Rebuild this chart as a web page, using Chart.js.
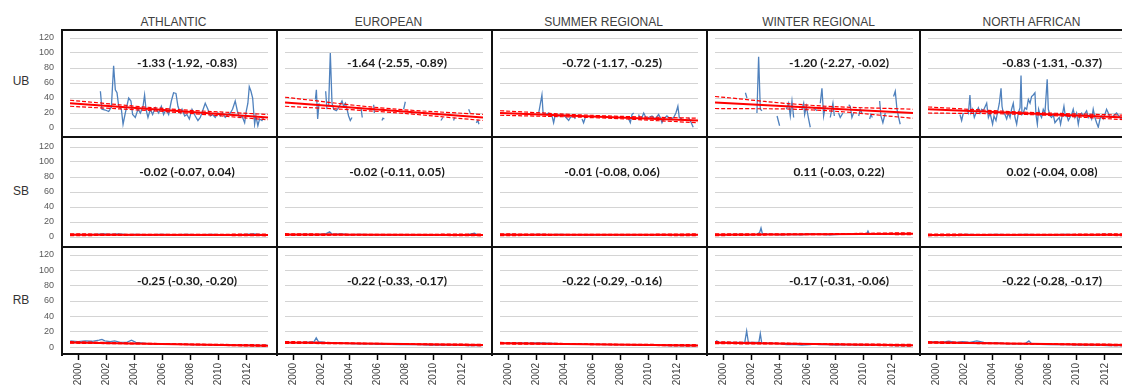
<!DOCTYPE html>
<html>
<head>
<meta charset="utf-8">
<script src="https://cdn.jsdelivr.net/npm/chart.js@4.4.1/dist/chart.umd.min.js"></script>
<style>
  html, body { margin: 0; padding: 0; background: #fff; overflow: hidden; }
  body { width: 1122px; height: 387px; position: relative; font-family: "Liberation Sans", Arial, sans-serif; }
  .title { position: absolute; top: 15px; width: 215px; text-align: center; font-size: 12px; color: #404040; line-height: 14px; }
  .rowlbl { position: absolute; left: 6px; width: 30px; text-align: center; font-size: 12px; color: #333; line-height: 14px; }
  .ln { position: absolute; background: #111; z-index: 5; }
  canvas { position: absolute; }
</style>
</head>
<body>
<script>
// column / row labels
const regions = ['ATHLANTIC', 'EUROPEAN', 'SUMMER REGIONAL', 'WINTER REGIONAL', 'NORTH AFRICAN'];
const rowNames = ['UB', 'SB', 'RB'];
const xTickYears = [2000, 2002, 2004, 2006, 2008, 2010, 2012];
const yTickValues = [0, 20, 40, 60, 80, 100, 120];

// slope (95% CI) printed in each panel
const ubEst = ['-1.33 (-1.92, -0.83)', '-1.64 (-2.55, -0.89)', '-0.72 (-1.17, -0.25)', '-1.20 (-2.27, -0.02)', '-0.83 (-1.31, -0.37)'];
const sbEst = ['-0.02 (-0.07, 0.04)', '-0.02 (-0.11, 0.05)', '-0.01 (-0.08, 0.06)', '0.11 (-0.03, 0.22)', '0.02 (-0.04, 0.08)'];
const rbEst = ['-0.25 (-0.30, -0.20)', '-0.22 (-0.33, -0.17)', '-0.22 (-0.29, -0.16)', '-0.17 (-0.31, -0.06)', '-0.22 (-0.28, -0.17)'];

// observed series, [year, value]; null value = gap
const ubAth = [[2001.59,49],[2001.70,25],[2001.94,24],[2002.18,22],[2002.37,28],[2002.53,83],[2002.65,51],[2002.77,47],[2002.89,29],[2003.08,25],[2003.20,5],[2003.36,20],[2003.60,40],[2003.76,36],[2003.88,18],[2004.07,14],[2004.26,25],[2004.43,20],[2004.62,29],[2004.73,44],[2004.83,25],[2004.97,14],[2005.14,25],[2005.30,18],[2005.49,27],[2005.73,20],[2005.92,29],[2006.08,18],[2006.25,25],[2006.44,18],[2006.63,36],[2006.79,47],[2006.96,46],[2007.10,29],[2007.27,20],[2007.39,25],[2007.58,16],[2007.74,18],[2007.91,12],[2008.10,25],[2008.33,16],[2008.52,10],[2008.69,14],[2008.93,27],[2009.04,33],[2009.23,25],[2009.40,16],[2009.56,18],[2009.75,14],[2009.94,20],[2010.11,16],[2010.27,20],[2010.46,14],[2010.65,18],[2010.82,20],[2010.98,25],[2011.17,36],[2011.32,23],[2011.46,14],[2011.65,16],[2011.84,7],[2011.96,23],[2012.07,33],[2012.17,55],[2012.29,49],[2012.41,40],[2012.55,5],[2012.64,16],[2012.78,3],[2012.90,12],[2013.07,10],[2013.19,14]];
const ubEur = [[2001.59,38],[2001.66,51],[2001.75,12],[2001.85,33],[2001.9,null],[2002.32,49],[2002.41,25],[2002.45,null],[2002.53,29],[2002.65,100],[2002.77,33],[2002.89,25],[2003.08,23],[2003.24,27],[2003.48,36],[2003.60,29],[2003.72,33],[2003.84,25],[2003.95,16],[2004.07,10],[2004.19,14],[2004.3,null],[2004.83,27],[2004.92,14],[2005.0,null],[2005.73,31],[2005.78,20],[2005.85,null],[2006.32,10],[2006.39,13],[2006.49,12],[2006.55,null],[2007.86,25],[2007.98,35],[2008.05,null],[2010.51,10],[2010.65,14],[2010.75,null],[2011.41,10],[2011.48,14],[2011.55,null],[2012.48,25],[2012.59,20],[2012.65,null],[2013.02,7],[2013.14,10],[2013.21,5]];
const ubSum = [[2002.18,20],[2002.41,44],[2002.49,20],[2002.65,18],[2002.89,20],[2003.13,16],[2003.24,7],[2003.36,18],[2003.60,16],[2003.84,18],[2004.07,15],[2004.31,10],[2004.43,14],[2004.66,16],[2004.78,12],[2004.9,null],[2005.26,12],[2005.37,7],[2005.49,14],[2005.6,null],[2007.62,12],[2007.74,16],[2007.8,null],[2008.57,12],[2008.69,7],[2008.81,18],[2008.93,20],[2009.1,null],[2009.28,18],[2009.40,12],[2009.52,14],[2009.64,20],[2009.75,16],[2009.87,12],[2009.99,14],[2010.23,16],[2010.46,12],[2010.70,18],[2010.82,14],[2010.94,7],[2011.06,12],[2011.29,16],[2011.53,12],[2011.77,14],[2011.93,20],[2012.07,29],[2012.17,14],[2012.36,12],[2012.5,null],[2012.83,14],[2013.02,7],[2013.16,1]];
const ubWin = [[2001.59,47],[2001.70,40],[2001.8,null],[2002.41,20],[2002.53,95],[2002.65,25],[2002.77,23],[2002.9,null],[2003.84,16],[2004.02,3],[2004.1,null],[2004.50,25],[2004.66,33],[2004.78,16],[2004.90,36],[2005.02,14],[2005.1,null],[2005.61,25],[2005.73,33],[2005.80,18],[2005.92,29],[2006.08,12],[2006.20,1],[2006.3,null],[2006.44,27],[2006.68,23],[2006.8,null],[2006.91,33],[2007.03,53],[2007.15,16],[2007.27,29],[2007.4,null],[2007.62,14],[2007.81,33],[2007.91,16],[2008.0,null],[2008.21,20],[2008.33,14],[2008.52,20],[2008.6,null],[2008.93,31],[2009.04,29],[2009.16,14],[2009.28,20],[2009.4,null],[2009.64,16],[2009.75,25],[2009.87,20],[2010.0,null],[2010.42,12],[2010.51,18],[2010.61,14],[2010.7,null],[2011.13,36],[2011.22,16],[2011.36,7],[2011.53,20],[2011.7,null],[2012.12,42],[2012.24,49],[2012.36,25],[2012.48,14],[2012.59,5]];
const ubNaf = [[2001.70,18],[2001.82,10],[2001.94,20],[2002.05,null],[2002.18,25],[2002.30,20],[2002.41,44],[2002.49,20],[2002.60,25],[2002.72,14],[2002.84,20],[2003.01,27],[2003.13,20],[2003.24,25],[2003.36,23],[2003.60,33],[2003.72,14],[2003.84,20],[2004.02,5],[2004.12,16],[2004.26,10],[2004.36,20],[2004.50,33],[2004.62,53],[2004.69,29],[2004.78,20],[2004.90,18],[2005.02,12],[2005.14,20],[2005.26,14],[2005.37,25],[2005.49,33],[2005.61,14],[2005.73,5],[2005.85,20],[2005.97,27],[2006.04,70],[2006.11,18],[2006.20,20],[2006.32,27],[2006.44,25],[2006.56,38],[2006.68,33],[2006.79,42],[2006.91,44],[2007.03,47],[2007.10,18],[2007.20,5],[2007.29,25],[2007.39,18],[2007.50,14],[2007.62,25],[2007.74,20],[2007.90,65],[2007.98,25],[2008.10,16],[2008.21,14],[2008.33,18],[2008.45,7],[2008.57,10],[2008.76,14],[2008.85,5],[2009.00,20],[2009.09,29],[2009.19,16],[2009.28,18],[2009.40,10],[2009.52,14],[2009.64,18],[2009.75,25],[2009.87,14],[2009.99,20],[2010.11,5],[2010.23,18],[2010.35,20],[2010.46,16],[2010.70,23],[2010.82,14],[2010.94,18],[2011.06,12],[2011.17,25],[2011.29,14],[2011.41,7],[2011.53,1],[2011.65,12],[2011.77,16],[2011.88,12],[2012.00,18],[2012.12,25],[2012.24,20],[2012.36,14],[2012.59,16],[2012.83,20],[2013.07,14],[2013.19,12]];

const sbAth = [[1999.45,3],[2000.0,3.5],[2000.6,3],[2001.2,3.5],[2001.8,4],[2002.3,3.5],[2002.9,4],[2003.5,3],[2004.1,3.5],[2004.7,3],[2005.3,3],[2005.9,3.5],[2006.5,3],[2007.1,3],[2007.7,3.5],[2008.3,3],[2008.9,3],[2009.5,3.5],[2010.1,3],[2010.7,3],[2011.3,3],[2011.9,3.5],[2012.5,4],[2013.1,3],[2013.45,3]];
const sbEur = [[1999.45,3],[2000.2,3],[2000.9,3.5],[2001.6,3],[2002.3,4],[2002.6,7],[2002.8,3.5],[2003.4,4],[2004.0,3],[2004.7,3.5],[2005.4,3],[2006.1,3],[2006.8,2.5],[2007.5,3],[2008.2,3],[2008.9,3],[2009.6,2.5],[2010.3,3],[2011.0,3],[2011.7,2.5],[2012.4,3],[2012.9,5],[2013.1,3],[2013.45,3]];
const sbSum = [[1999.45,3],[2000.1,3.5],[2000.8,3],[2001.5,3],[2002.2,3.5],[2002.9,3],[2003.6,3.5],[2004.3,3],[2005.0,3],[2005.7,2.5],[2006.4,3],[2007.1,3],[2007.8,3],[2008.5,2.5],[2009.2,3],[2009.9,3],[2010.6,3],[2011.3,3],[2012.0,2.5],[2012.7,3],[2013.45,3]];
const sbWin = [[1999.45,3],[2000.3,3],[2001.0,3.5],[2001.7,3],[2002.4,3.5],[2002.6,6],[2002.7,12],[2002.8,4],[2003.4,3.5],[2004.1,3],[2004.8,3.5],[2005.5,3],[2006.2,4],[2006.9,3.5],[2007.6,3],[2008.3,3.5],[2009.0,4],[2009.7,3.5],[2010.2,4],[2010.3,8],[2010.4,4],[2011.1,4],[2011.8,4.5],[2012.5,4],[2013.45,4.5]];
const sbNaf = [[1999.45,3],[2000.1,2.5],[2000.8,3],[2001.5,3],[2002.2,3.5],[2002.9,3],[2003.6,3],[2004.3,3.5],[2005.0,3],[2005.7,3],[2006.4,3.5],[2007.1,3],[2007.8,3],[2008.5,3],[2009.2,3.5],[2009.9,3],[2010.6,3],[2011.3,3],[2012.0,3.5],[2012.7,3],[2013.45,3]];

const rbAth = [[1999.45,8],[2000.0,7],[2000.5,8],[2001.0,7.5],[2001.5,9],[2001.7,10],[2001.9,8],[2002.3,7],[2002.6,8],[2003.0,6],[2003.5,6.5],[2003.8,9],[2004.1,6],[2004.6,5],[2005.2,4],[2005.8,4.5],[2006.4,4],[2007.0,3.5],[2007.6,3.5],[2008.2,3],[2008.8,3],[2009.4,3],[2010.0,2.5],[2010.6,3],[2011.2,2.5],[2011.8,2.5],[2012.4,2.5],[2013.0,2],[2013.45,2.5]];
const rbEur = [[1999.45,6],[2000.0,5.5],[2000.6,6],[2001.1,6.5],[2001.5,7],[2001.65,12],[2001.8,7],[2002.3,6],[2002.9,5.5],[2003.5,5],[2004.1,4.5],[2004.8,4],[2005.5,4],[2006.2,3.5],[2006.9,3.5],[2007.6,3],[2008.3,3],[2009.0,3],[2009.7,2.5],[2010.4,2.5],[2011.1,2.5],[2011.8,2.5],[2012.5,2],[2013.45,2]];
const rbSum = [[1999.45,5],[2000.1,5],[2000.8,5.5],[2001.5,5],[2002.2,5.5],[2002.9,5],[2003.6,4.5],[2004.3,4],[2005.0,4],[2005.7,3.5],[2006.4,3.5],[2007.1,3],[2007.8,3],[2008.5,3],[2009.2,2.5],[2009.9,2.5],[2010.6,2.5],[2011.3,2],[2012.0,2],[2012.7,2],[2013.45,2]];
const rbWin = [[1999.45,6],[1999.55,8],[1999.7,6.5],[2000.3,6],[2001.0,6],[2001.55,6.5],[2001.68,21],[2001.8,6],[2002.3,6],[2002.55,6.5],[2002.65,17.5],[2002.75,5],[2003.3,5],[2004.0,4.5],[2004.5,3],[2005.0,3.5],[2005.6,2.5],[2006.2,3],[2006.5,4],[2006.8,3],[2007.4,3],[2008.0,2.5],[2008.7,3],[2009.4,2.5],[2010.1,2.5],[2010.8,2.5],[2011.5,2.5],[2012.2,2],[2013.45,2]];
const rbNaf = [[1999.45,6],[1999.9,7],[2000.4,6],[2000.9,7.5],[2001.4,6],[2001.9,7],[2002.4,6],[2002.9,8],[2003.4,6],[2003.9,5],[2004.4,5.5],[2004.9,4.5],[2005.4,4],[2005.9,4.5],[2006.3,4],[2006.6,8],[2006.8,4],[2007.4,3.5],[2008.0,3],[2008.7,3],[2009.4,3],[2010.1,2.5],[2010.8,2.5],[2011.5,2.5],[2012.2,2],[2013.45,2]];

// fitted trend [start, end] and 95% band [start, middle, end]
const ubFit   = [[33, 14], [34, 14], [20, 10], [34, 20], [25, 14]];
const ubUpper = [[37, 25.5, 18], [41, 26.5, 18], [23, 16.5, 13], [42, 30, 25], [28, 21, 17]];
const ubLower = [[29, 21.5, 11], [29, 21.5, 10], [17, 13.5, 7], [26, 24, 13], [20, 18, 11]];
const sbFit   = [[3, 2.8], [3.2, 2.8], [3, 2.9], [3, 4.5], [2.8, 3.1]];
const sbUpper = [[4.2, 3.4, 4], [4.4, 3.5, 4], [4.2, 3.4, 4.1], [4.2, 4.2, 5.7], [4, 3.4, 4.3]];
const sbLower = [[1.8, 2.4, 1.6], [2, 2.5, 1.6], [1.8, 2.5, 1.7], [1.8, 3.2, 3.3], [1.6, 2.5, 1.9]];
const rbFit   = [[6, 1.8], [6, 2.5], [5, 2], [5.7, 2.2], [6, 2.5]];
const rbUpper = [[7, 4.3, 2.8], [7.2, 4.6, 3.5], [6, 3.9, 3], [7, 4.4, 3.4], [7, 4.6, 3.5]];
const rbLower = [[5, 3.5, 0.8], [4.8, 3.9, 1.5], [4, 3.1, 1], [4.4, 3.5, 1], [5, 3.9, 1.5]];

const seriesRows = [[ubAth, ubEur, ubSum, ubWin, ubNaf], [sbAth, sbEur, sbSum, sbWin, sbNaf], [rbAth, rbEur, rbSum, rbWin, rbNaf]];
const fitRows = [ubFit, sbFit, rbFit];
const upperRows = [ubUpper, sbUpper, rbUpper];
const lowerRows = [ubLower, sbLower, rbLower];
const estRows = [ubEst, sbEst, rbEst];

// layout (pixels)
const colLeft = [62, 277, 492, 707, 920];
const panelW = 215;
const rowTop = [30, 137, 247];
const rowBottom = [137, 247, 354];
const padTop = [8, 10, 8];
const padBottom = [9, 10, 0];
const rowLabelY = [81, 191, 300];
const yMin = [0, 0, -9.1];
const estDx = [117, 112, 112, 124, 124];
const xMin = 1999.43, xMax = 2013.5;

const estLabel = {
  id: 'estLabel',
  afterDatasetsDraw(chart, args, opts) {
    const { ctx, chartArea, scales } = chart;
    ctx.save();
    ctx.font = 'bold 12px Lato, "Open Sans", sans-serif';
    ctx.fillStyle = '#1a1a1a';
    ctx.textAlign = 'center';
    ctx.textBaseline = 'middle';
    ctx.fillText(opts.text, chartArea.left + opts.dx, scales.y.getPixelForValue(86));
    ctx.restore();
  }
};

function addDiv(cls, css, text) {
  const d = document.createElement('div');
  d.className = cls;
  Object.assign(d.style, css);
  if (text) d.textContent = text;
  document.body.appendChild(d);
}

regions.forEach((t, c) => addDiv('title', { left: (colLeft[c] + 4) + 'px' }, t));
rowNames.forEach((t, r) => addDiv('rowlbl', { top: (rowLabelY[r] - 7) + 'px' }, t));

// panel frame lines
colLeft.forEach(x => addDiv('ln', { left: (x - 1) + 'px', top: '29px', width: '2px', height: '327px' }));
[30, 137, 247, 354].forEach(y => addDiv('ln', { left: '61px', top: (y - 1) + 'px', width: '1070px', height: '2px' }));

for (let r = 0; r < 3; r++) {
  for (let c = 0; c < 5; c++) {
    const cv = document.createElement('canvas');
    const left = c === 0 ? 0 : colLeft[c];
    const w = colLeft[c] + panelW - left;
    const h = (r === 2 ? 387 : rowBottom[r]) - rowTop[r];
    cv.width = w; cv.height = h;
    cv.style.left = left + 'px';
    cv.style.top = rowTop[r] + 'px';
    document.body.appendChild(cv);

    const fit = fitRows[r][c], up = upperRows[r][c], lo = lowerRows[r][c];
    const xMid = (xMin + xMax) / 2;
    const blue = seriesRows[r][c].map(p => ({ x: p[0], y: p[1] }));
    const noPt = { pointRadius: 0, pointHoverRadius: 0, pointHitRadius: 0 };

    new Chart(cv, {
      type: 'line',
      data: {
        datasets: [
          { data: [{ x: xMin, y: fit[0] }, { x: xMax, y: fit[1] }], borderColor: '#ff0000', borderWidth: 2, ...noPt },
          { data: [{ x: xMin, y: up[0] }, { x: xMid, y: up[1] }, { x: xMax, y: up[2] }], borderColor: '#ff0000', borderWidth: 1.2, borderDash: [4, 2], tension: 0.4, ...noPt },
          { data: [{ x: xMin, y: lo[0] }, { x: xMid, y: lo[1] }, { x: xMax, y: lo[2] }], borderColor: '#ff0000', borderWidth: 1.2, borderDash: [4, 2], tension: 0.4, ...noPt },
          { data: blue, borderColor: '#4f81bd', borderWidth: 1.3, spanGaps: false, ...noPt }
        ]
      },
      options: {
        responsive: false,
        animation: false,
        events: [],
        layout: { autoPadding: false, padding: { left: c === 0 ? 10 : 8, right: 9, top: padTop[r], bottom: padBottom[r] } },
        plugins: {
          legend: { display: false },
          title: { display: false },
          tooltip: { enabled: false },
          estLabel: { text: estRows[r][c], dx: estDx[c] }
        },
        scales: {
          x: {
            type: 'linear', min: xMin, max: xMax, display: r === 2,
            afterBuildTicks: s => { s.ticks = xTickYears.map(v => ({ value: v })); },
            afterFit: s => { s.height = r === 2 ? 33 : 0; },
            grid: { drawOnChartArea: false, drawTicks: true, tickLength: 6, tickColor: '#000', tickWidth: 1.5 },
            border: { display: false },
            ticks: {
              autoSkip: false, minRotation: 90, maxRotation: 90, padding: 3,
              font: { size: 10, family: '"Liberation Sans", Arial' }, color: '#404040',
              callback: v => String(v)
            }
          },
          y: {
            min: yMin[r], max: 120,
            afterBuildTicks: s => { s.ticks = yTickValues.map(v => ({ value: v })); },
            afterFit: s => { s.width = c === 0 ? 60 : 0; s.paddingTop = 0; s.paddingBottom = 0; },
            grid: { color: '#d4d4d4', lineWidth: 1, drawTicks: false },
            border: { display: false },
            ticks: { display: c === 0, padding: 16, font: { size: 9, family: '"Liberation Sans", Arial' }, color: '#595959' }
          }
        }
      },
      plugins: [estLabel]
    });
  }
}
</script>
</body>
</html>
